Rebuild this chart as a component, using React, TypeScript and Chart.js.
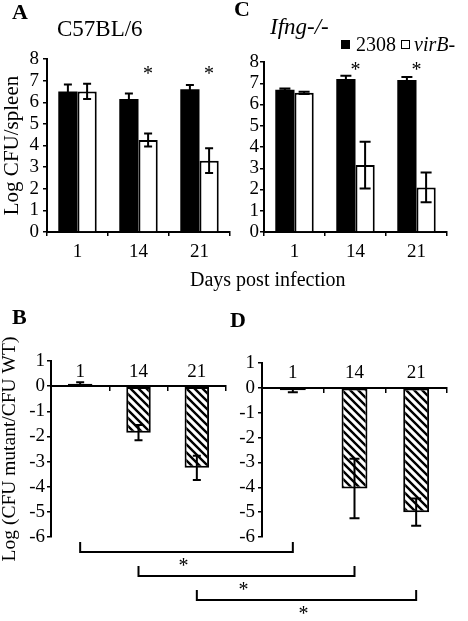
import React, { useEffect, useRef } from "react";
import { Chart, registerables } from "chart.js";

Chart.register(...registerables);

const FONT = "'Liberation Serif', 'Times New Roman', Times, serif";

// ---- data ----
const days = ["1", "14", "21"];
const seriesNames = ["2308", "virB-"];

// Panel A: C57BL/6, Log CFU/spleen
const a2308 = [6.5, 6.15, 6.6];
const a2308Err = [0.32, 0.26, 0.2];
const aVirB = [6.5, 4.25, 3.3];
const aVirBErr = [0.35, 0.3, 0.57];
const aSig = [false, true, true];

// Panel C: Ifng-/-, Log CFU/spleen
const c2308 = [6.7, 7.2, 7.15];
const c2308Err = [0.05, 0.15, 0.15];
const cVirB = [6.55, 3.15, 2.1];
const cVirBErr = [0.05, 1.1, 0.7];
const cSig = [false, true, true];

// Panel B / D: Log (CFU mutant / CFU WT)
const bRatio = [0.1, -1.85, -3.25];
const bRatioErr = [0.05, 0.3, 0.48];
const dRatio = [-0.1, -4.05, -5.0];
const dRatioErr = [0.08, 1.2, 0.55];

// comparisons B vs D per day (index into days)
const bracketDays = [0, 1, 2];
const bracketLabels = ["*", "*", "*"];

// tick labels
const topTicks = [0, 1, 2, 3, 4, 5, 6, 7, 8];
const bottomTicks = [-6, -5, -4, -3, -2, -1, 0, 1];

// ---- plugins ----
const errorBarPlugin = {
  id: "errorBars",
  afterDatasetsDraw(chart: any, _args: any, opts: any) {
    const ctx = chart.ctx;
    const ys = chart.scales.y;
    chart.data.datasets.forEach((ds: any, di: number) => {
      const errs = ds.errors;
      if (!errs) return;
      const meta = chart.getDatasetMeta(di);
      meta.data.forEach((el: any, i: number) => {
        const v = ds.data[i];
        const e = errs[i];
        const x = el.x;
        const yt = ys.getPixelForValue(v + e);
        const yb = ys.getPixelForValue(v - e);
        const hw = (opts.capWidth || 8) / 2;
        ctx.save();
        ctx.strokeStyle = "#000";
        ctx.lineWidth = opts.lineWidth || 2;
        ctx.beginPath();
        ctx.moveTo(x, yt);
        ctx.lineTo(x, yb);
        ctx.moveTo(x - hw, yt);
        ctx.lineTo(x + hw, yt);
        ctx.moveTo(x - hw, yb);
        ctx.lineTo(x + hw, yb);
        ctx.stroke();
        ctx.restore();
      });
    });
  },
};

const sigPlugin = {
  id: "sigMarks",
  afterDatasetsDraw(chart: any, _args: any, opts: any) {
    if (!opts || !opts.flags) return;
    const ctx = chart.ctx;
    const xs = chart.scales.x;
    const ys = chart.scales.y;
    opts.flags.forEach((f: boolean, i: number) => {
      if (!f) return;
      let x = xs.getPixelForValue(i);
      if (opts.datasetIndex != null) {
        x = chart.getDatasetMeta(opts.datasetIndex).data[i].x;
      }
      const y = ys.getPixelForValue(opts.value);
      ctx.save();
      ctx.fillStyle = "#000";
      ctx.font = `20px ${FONT}`;
      ctx.textAlign = "center";
      ctx.textBaseline = "alphabetic";
      ctx.fillText("*", x, y + 10);
      ctx.restore();
    });
  },
};

function makeHatch(): any {
  const s = 8;
  const c = document.createElement("canvas");
  c.width = s;
  c.height = s;
  const g = c.getContext("2d");
  if (!g) return "#fff";
  g.fillStyle = "#fff";
  g.fillRect(0, 0, s, s);
  g.strokeStyle = "#000";
  g.lineWidth = 2.4;
  g.beginPath();
  for (let k = -1; k <= 1; k++) {
    g.moveTo(k * s - 2, -2);
    g.lineTo(k * s + s + 2, s + 2);
  }
  g.stroke();
  return g.createPattern(c, "repeat") || "#fff";
}

const tickFont = { family: FONT, size: 19 };

const setTicks = (list: number[]) => (s: any) => {
  s.ticks = list.map((v) => ({ value: v }));
};

function makeTop(canvas: HTMLCanvasElement, o: any) {
  return new Chart(canvas, {
    type: "bar",
    data: {
      labels: days,
      datasets: [
        {
          label: seriesNames[0],
          data: o.wt,
          errors: o.wtErr,
          backgroundColor: "#000",
          borderColor: "#000",
          borderWidth: 0,
          categoryPercentage: 0.63,
          barPercentage: 1,
        } as any,
        {
          label: seriesNames[1],
          data: o.mut,
          errors: o.mutErr,
          backgroundColor: "#fff",
          borderColor: "#000",
          borderWidth: 2,
          categoryPercentage: 0.63,
          barPercentage: 1,
        } as any,
      ],
    },
    options: {
      responsive: false,
      animation: false,
      layout: { padding: { left: 0, top: o.padTop, right: o.padRight, bottom: 0 } },
      plugins: {
        legend: { display: false },
        tooltip: { enabled: false },
        title: { display: false },
        errorBars: { capWidth: o.capWidth, lineWidth: 2 },
        sigMarks: { flags: o.sig, value: o.sigValue, datasetIndex: o.sigDataset },
      } as any,
      scales: {
        x: {
          grid: {
            display: true,
            drawOnChartArea: false,
            drawTicks: true,
            tickLength: 4,
            color: "#000",
            lineWidth: 1.5,
            offset: true,
          },
          border: { display: true, color: "#000", width: 2 },
          ticks: { color: "#000", font: tickFont, padding: 5, maxRotation: 0, autoSkip: false },
          afterFit: (s: any) => {
            s.height = o.xHeight;
          },
        },
        y: {
          min: topTicks[0],
          max: topTicks[topTicks.length - 1],
          afterBuildTicks: setTicks(topTicks),
          ticks: { color: "#000", font: tickFont, padding: o.yPad, autoSkip: false },
          grid: {
            drawOnChartArea: false,
            drawTicks: true,
            tickLength: 4,
            color: "#000",
            lineWidth: 1.5,
          },
          border: { display: true, color: "#000", width: 2 },
          title: o.yTitle
            ? {
                display: true,
                text: o.yTitle,
                color: "#000",
                font: { family: FONT, size: 21, lineHeight: 1.2 },
                padding: { top: 0, bottom: 0 },
              }
            : { display: false },
          afterFit: (s: any) => {
            s.width = o.yWidth;
          },
        },
      },
    } as any,
    plugins: [errorBarPlugin, sigPlugin] as any,
  });
}

function makeBottom(canvas: HTMLCanvasElement, o: any) {
  return new Chart(canvas, {
    type: "bar",
    data: {
      labels: days,
      datasets: [
        {
          label: "mutant/WT",
          data: o.vals,
          errors: o.errs,
          backgroundColor: o.pattern,
          borderColor: "#000",
          borderWidth: 2,
          borderSkipped: false,
          categoryPercentage: 1,
          barPercentage: 0.42,
        } as any,
      ],
    },
    options: {
      responsive: false,
      animation: false,
      layout: { padding: { left: 0, top: o.padTop, right: o.padRight, bottom: o.padBottom } },
      plugins: {
        legend: { display: false },
        tooltip: { enabled: false },
        title: { display: false },
        errorBars: { capWidth: o.capWidth, lineWidth: 2 },
      } as any,
      scales: {
        x: {
          position: { y: 0 },
          grid: {
            display: true,
            drawOnChartArea: false,
            drawTicks: true,
            tickLength: 4,
            color: "#000",
            lineWidth: 1.5,
            offset: true,
          },
          border: { display: true, color: "#000", width: 2 },
          ticks: { color: "#000", font: tickFont, padding: -30, maxRotation: 0, autoSkip: false },
        },
        y: {
          position: "left",
          min: bottomTicks[0],
          max: bottomTicks[bottomTicks.length - 1],
          afterBuildTicks: setTicks(bottomTicks),
          ticks: { color: "#000", font: tickFont, padding: o.yPad, autoSkip: false },
          grid: {
            drawOnChartArea: false,
            drawTicks: true,
            tickLength: 4,
            color: "#000",
            lineWidth: 1.5,
          },
          border: { display: true, color: "#000", width: 2 },
          title: o.yTitle
            ? {
                display: true,
                text: o.yTitle,
                color: "#000",
                font: { family: FONT, size: 19.5, lineHeight: 1 },
                padding: { top: 0, bottom: 0 },
              }
            : { display: false },
          afterFit: (s: any) => {
            s.width = o.yWidth;
          },
        },
      },
    } as any,
    plugins: [errorBarPlugin] as any,
  });
}

// canvas placement (page pixels)
const A_BOX = { left: 0, top: 40, w: 240, h: 235 };
const C_BOX = { left: 234, top: 40, w: 234, h: 235 };
const B_BOX = { left: 0, top: 330, w: 234, h: 240 };
const D_BOX = { left: 234, top: 330, w: 234, h: 240 };

export default function App() {
  const refA = useRef<HTMLCanvasElement>(null);
  const refC = useRef<HTMLCanvasElement>(null);
  const refB = useRef<HTMLCanvasElement>(null);
  const refD = useRef<HTMLCanvasElement>(null);
  const refO = useRef<HTMLCanvasElement>(null);

  useEffect(() => {
    const charts: Chart[] = [];
    const pattern = makeHatch();
    if (refA.current) {
      charts.push(
        makeTop(refA.current, {
          wt: a2308,
          wtErr: a2308Err,
          mut: aVirB,
          mutErr: aVirBErr,
          sig: aSig,
          sigValue: 7.5,
          sigDataset: 1,
          padTop: 59 - A_BOX.top,
          padRight: A_BOX.left + A_BOX.w - 230,
          xHeight: A_BOX.top + A_BOX.h - 232,
          yWidth: 47 - A_BOX.left,
          yPad: 4,
          yTitle: "Log CFU/spleen",
          capWidth: 8,
        })
      );
    }
    if (refC.current) {
      charts.push(
        makeTop(refC.current, {
          wt: c2308,
          wtErr: c2308Err,
          mut: cVirB,
          mutErr: cVirBErr,
          sig: cSig,
          sigValue: 7.8,
          sigDataset: null,
          padTop: 62 - C_BOX.top,
          padRight: C_BOX.left + C_BOX.w - 447,
          xHeight: C_BOX.top + C_BOX.h - 232,
          yWidth: 264 - C_BOX.left,
          yPad: 1,
          yTitle: null,
          capWidth: 11,
        })
      );
    }
    let chartB: any = null;
    let chartD: any = null;
    if (refB.current) {
      chartB = makeBottom(refB.current, {
        vals: bRatio,
        errs: bRatioErr,
        pattern,
        padTop: 361 - B_BOX.top,
        padBottom: B_BOX.top + B_BOX.h - 537,
        padRight: B_BOX.left + B_BOX.w - 226,
        yWidth: 51 - B_BOX.left,
        yPad: 2,
        yTitle: "Log (CFU mutant/CFU WT)",
        capWidth: 8,
      });
      charts.push(chartB);
    }
    if (refD.current) {
      chartD = makeBottom(refD.current, {
        vals: dRatio,
        errs: dRatioErr,
        pattern,
        padTop: 363 - D_BOX.top,
        padBottom: D_BOX.top + D_BOX.h - 537,
        padRight: D_BOX.left + D_BOX.w - 447,
        yWidth: 262 - D_BOX.left,
        yPad: 3,
        yTitle: null,
        capWidth: 10,
      });
      charts.push(chartD);
    }
    const ov = refO.current;
    if (ov && chartB && chartD) {
      const g = ov.getContext("2d");
      if (g) {
        g.clearRect(0, 0, ov.width, ov.height);
        bracketDays.forEach((d, k) => {
          const xL = B_BOX.left + chartB.scales.x.getPixelForValue(d);
          const xR = D_BOX.left + chartD.scales.x.getPixelForValue(d);
          const y = 552 + 24 * k;
          g.strokeStyle = "#000";
          g.lineWidth = 2;
          g.beginPath();
          g.moveTo(xL, y - 10);
          g.lineTo(xL, y);
          g.lineTo(xR, y);
          g.lineTo(xR, y - 10);
          g.stroke();
          g.fillStyle = "#000";
          g.font = `20px ${FONT}`;
          g.textAlign = "center";
          g.textBaseline = "alphabetic";
          g.fillText(bracketLabels[k], (xL + xR) / 2 - 3, y + 10 + 10);
        });
      }
    }
    return () => {
      charts.forEach((c) => c.destroy());
    };
  }, []);

  const abs = (left: number, top: number, extra: any = {}) => ({
    position: "absolute" as const,
    left,
    top,
    lineHeight: 1,
    whiteSpace: "nowrap" as const,
    ...extra,
  });

  return (
    <div
      style={{
        position: "absolute",
        left: 0,
        top: 0,
        width: 468,
        height: 621,
        background: "#fff",
        overflow: "hidden",
        fontFamily: FONT,
        color: "#000",
      }}
    >
      <canvas ref={refA} width={A_BOX.w} height={A_BOX.h} style={{ position: "absolute", left: A_BOX.left, top: A_BOX.top }} />
      <canvas ref={refC} width={C_BOX.w} height={C_BOX.h} style={{ position: "absolute", left: C_BOX.left, top: C_BOX.top }} />
      <canvas ref={refB} width={B_BOX.w} height={B_BOX.h} style={{ position: "absolute", left: B_BOX.left, top: B_BOX.top }} />
      <canvas ref={refD} width={D_BOX.w} height={D_BOX.h} style={{ position: "absolute", left: D_BOX.left, top: D_BOX.top }} />
      <canvas
        ref={refO}
        width={468}
        height={621}
        style={{ position: "absolute", left: 0, top: 0, pointerEvents: "none" }}
      />

      <div style={abs(12, 1, { fontSize: 22, fontWeight: "bold" })}>A</div>
      <div style={abs(57, 17, { fontSize: 23 })}>C57BL/6</div>
      <div style={abs(234, -2, { fontSize: 22, fontWeight: "bold" })}>C</div>
      <div style={abs(270, 15, { fontSize: 23, fontStyle: "italic" })}>Ifng-/-</div>

      <div style={abs(341, 40, { width: 9, height: 9, background: "#000" })} />
      <div style={abs(356, 34, { fontSize: 20 })}>{seriesNames[0]}</div>
      <div style={abs(401, 40, { width: 7, height: 7, background: "#fff", border: "1px solid #000" })} />
      <div style={abs(414, 34, { fontSize: 20, fontStyle: "italic" })}>{seriesNames[1]}</div>

      <div style={abs(190, 269, { fontSize: 20 })}>Days post infection</div>

      <div style={abs(12, 306, { fontSize: 22, fontWeight: "bold" })}>B</div>
      <div style={abs(230, 309, { fontSize: 22, fontWeight: "bold" })}>D</div>
    </div>
  );
}
